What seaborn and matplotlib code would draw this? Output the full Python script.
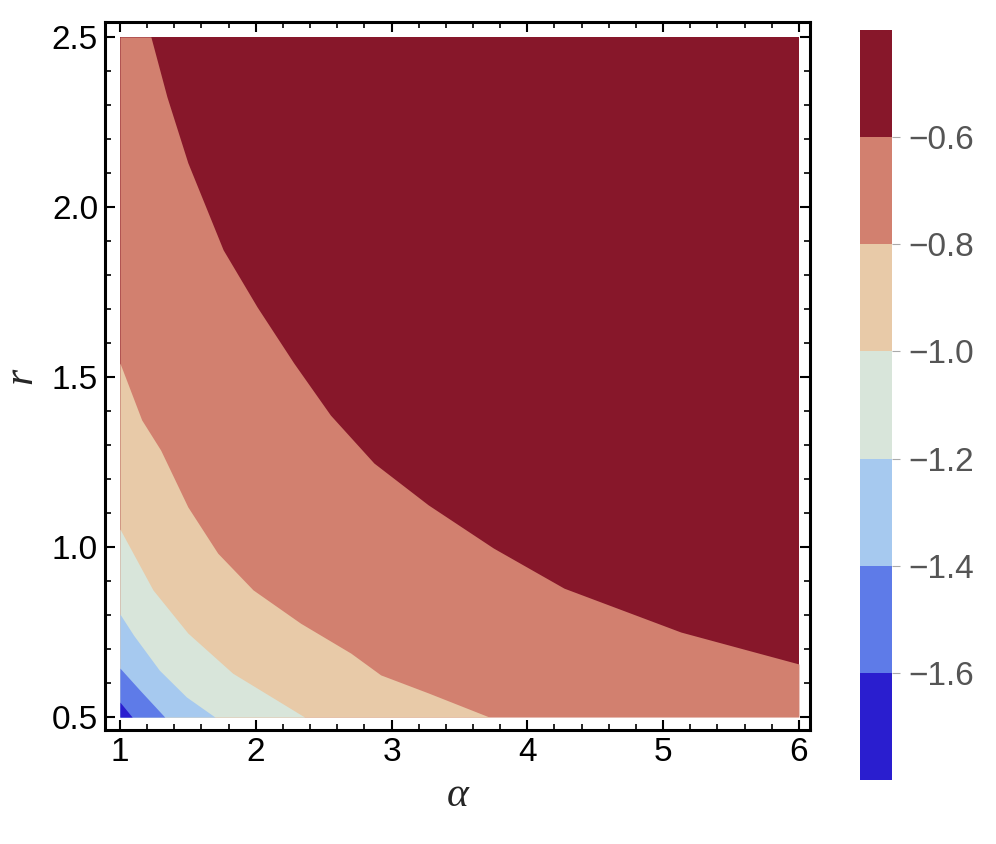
import numpy as np
import matplotlib
matplotlib.use("Agg")
import matplotlib.pyplot as plt
import seaborn as sns
from matplotlib.colors import ListedColormap, BoundaryNorm
from matplotlib.ticker import MultipleLocator
import matplotlib.colorbar as mcolorbar

# plot domain
alpha_range = [1.0, 6.0]
r_range = [0.5, 2.5]

# contour boundaries: (alpha, r) points
b_06_alpha = [1.0, 1.228, 1.346, 1.50, 1.76, 2.01, 2.28, 2.55, 2.87, 3.27, 3.75, 4.27, 5.13, 5.62, 6.0]
b_06_r = [2.5, 2.5, 2.324, 2.13, 1.874, 1.706, 1.541, 1.388, 1.247, 1.124, 0.997, 0.879, 0.750, 0.697, 0.656]

b_08_alpha = [1.0, 1.16, 1.30, 1.50, 1.72, 1.98, 2.33, 2.70, 2.92, 3.27, 3.72]
b_08_r = [1.541, 1.374, 1.285, 1.118, 0.982, 0.874, 0.776, 0.688, 0.624, 0.571, 0.5]

b_10_alpha = [1.0, 1.243, 1.50, 1.83, 2.36]
b_10_r = [1.053, 0.874, 0.747, 0.629, 0.5]

b_12_alpha = [1.0, 1.10, 1.29, 1.49, 1.70]
b_12_r = [0.803, 0.741, 0.638, 0.559, 0.5]

b_14_alpha = [1.0, 1.147, 1.33]
b_14_r = [0.644, 0.579, 0.5]

b_16_alpha = [1.0, 1.09]
b_16_r = [0.544, 0.5]

levels = [-1.8, -1.6, -1.4, -1.2, -1.0, -0.8, -0.6, -0.4]
level_colors = ["#2a1ecf", "#5e7be8", "#a6c9ef", "#d8e5da", "#e8caa8", "#d2806f", "#87172a"]
cbar_ticks = [-1.6, -1.4, -1.2, -1.0, -0.8, -0.6]
cbar_labels = ["\u22121.6", "\u22121.4", "\u22121.2", "\u22121.0", "\u22120.8", "\u22120.6"]

sns.set_theme(style="ticks")
plt.rcParams["font.family"] = ["Liberation Sans", "DejaVu Sans"]

fig = plt.figure(figsize=(9.96, 8.44), dpi=100)
ax = fig.add_axes([0.1054, 0.1351, 0.7078, 0.8389])

# layered fills, from the top band down to the lowest
ax.fill_between(alpha_range, r_range[0], r_range[1], color=level_colors[6], lw=0)
boundaries = [
    (b_06_alpha, b_06_r, level_colors[5]),
    (b_08_alpha, b_08_r, level_colors[4]),
    (b_10_alpha, b_10_r, level_colors[3]),
    (b_12_alpha, b_12_r, level_colors[2]),
    (b_14_alpha, b_14_r, level_colors[1]),
    (b_16_alpha, b_16_r, level_colors[0]),
]
for xs, ys, c in boundaries:
    ax.fill_between(xs, r_range[0], ys, color=c, lw=0)

ax.set_xlim(0.89, 6.081)
ax.set_ylim(0.462, 2.544)
ax.set_facecolor("white")

ax.xaxis.set_minor_locator(MultipleLocator(0.2))
ax.yaxis.set_minor_locator(MultipleLocator(0.1))
ax.set_xticks([1, 2, 3, 4, 5, 6])
ax.set_xticklabels(["1", "2", "3", "4", "5", "6"])
ax.set_yticks([0.5, 1.0, 1.5, 2.0, 2.5])
ax.set_yticklabels(["0.5", "1.0", "1.5", "2.0", "2.5"])

ax.tick_params(which="both", direction="in", top=True, right=True, color="black")
ax.tick_params(which="major", length=7, width=1.5, labelsize=24, pad=5, labelcolor="black")
ax.tick_params(which="minor", length=4, width=1.2)
for s in ax.spines.values():
    s.set_linewidth(2.2)
    s.set_color("black")

ax.set_xlabel("α", fontsize=30, family=["Liberation Serif", "DejaVu Serif"], style="italic", labelpad=6)
ax.set_ylabel("r", fontsize=30, family=["Liberation Serif", "DejaVu Serif"], style="italic", labelpad=8)

# colorbar
cax = fig.add_axes([0.8635, 0.0758, 0.0321, 0.8886])
cmap = ListedColormap(level_colors)
norm = BoundaryNorm(levels, cmap.N)
cb = mcolorbar.ColorbarBase(cax, cmap=cmap, norm=norm, boundaries=levels, ticks=cbar_ticks)
cb.outline.set_visible(False)
cb.ax.set_yticklabels(cbar_labels)
cb.ax.tick_params(length=6, width=0.8, color="#aaaaaa", labelsize=24, labelcolor="#555555", pad=6)
cb.ax.minorticks_off()

fig.savefig("out.png", dpi=100)
